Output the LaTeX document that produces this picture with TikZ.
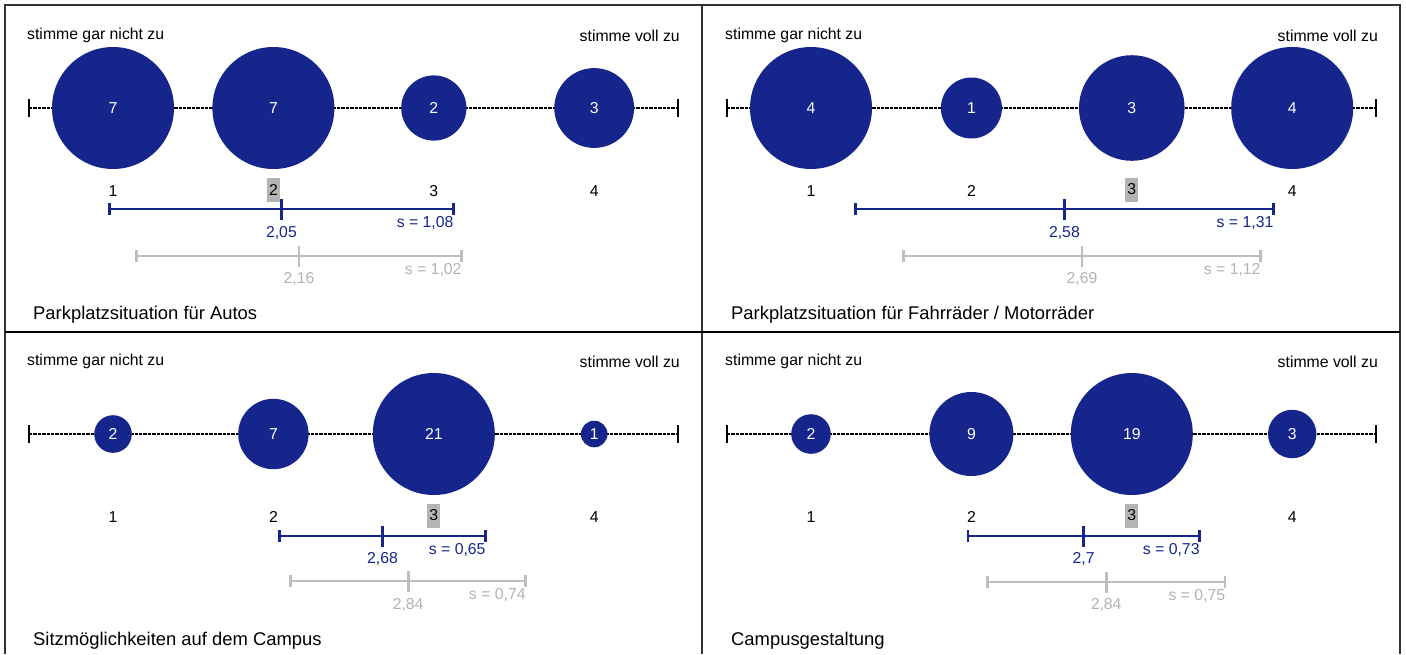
\documentclass[tikz,border=0pt]{standalone}
\usepackage{fontspec}
\setmainfont{Liberation Sans}
\usetikzlibrary{arrows.meta}

\definecolor{surveyblue}{RGB}{21,37,140}
\definecolor{refgray}{RGB}{190,190,190}
\definecolor{reftext}{RGB}{178,178,178}
\definecolor{medgray}{RGB}{180,180,180}
\newcommand{\lblfont}{\fontsize{15.8}{18}\selectfont}
\newcommand{\ttlfont}{\fontsize{18.4}{21}\selectfont}

\begin{document}
\begin{tikzpicture}[x=1pt,y=-1pt,
		frame/.style={line width=1.4pt,color=black!80},
		scaleline/.style={line width=2.2pt,dash pattern=on 3.4pt off 1pt},
		scaletick/.style={line width=2.2pt},
		answer/.style={circle,fill=surveyblue,inner sep=0pt,text=white,font=\lblfont},
		endtext/.style={font=\lblfont,inner sep=0pt},
		scalenum/.style={font=\lblfont,inner sep=0pt},
		median/.style={fill=medgray,minimum width=13pt,minimum height=24pt},
		meanbar/.style={line width=2.8pt,surveyblue,{Bar[width=12pt]}-{Bar[width=12pt]}},
		meantick/.style={line width=2.8pt,surveyblue},
		meantext/.style={font=\lblfont,inner sep=0pt,text=surveyblue},
		refbar/.style={line width=2.8pt,refgray,{Bar[width=12pt]}-{Bar[width=12pt]}},
		reftick/.style={line width=2.8pt,refgray},
		reftxt/.style={font=\lblfont,inner sep=0pt,text=reftext},
		title/.style={font=\ttlfont,inner sep=0pt,anchor=west}]

	\useasboundingbox (0,0) rectangle (1406,654);

	% frame
	\draw[frame] (5,654) -- (5,5) -- (1400,5) -- (1400,654);
	\draw[frame] (702,5) -- (702,654);
	\draw[frame,black] (5,332) -- (1400,332);

	% Autos
	\begin{scope}
		\coordinate (a-l) at (29,108);
		\coordinate (a-r) at (677.7,108);
		\draw[scaleline] (a-l) -- (a-r);
		\draw[scaletick] ([yshift=9pt]a-l) -- ([yshift=-9pt]a-l);
		\draw[scaletick] ([yshift=9pt]a-r) -- ([yshift=-9pt]a-r);
		\node[endtext,anchor=west] (a-lo) at (27,35.5) {stimme gar nicht zu};
		\node[endtext,anchor=east] (a-hi) at (680,35.5) {stimme voll zu};
		\foreach \p/\n/\rad in {1/7/61,2/7/61,3/2/32.6,4/3/39.9}
			\node[answer,minimum size=\rad*2pt] (a-c\p) at ({160.4*\p-47.4},108) {\n};
		\foreach \p in {1,3,4}
			\node[scalenum] (a-n\p) at ({160.4*\p-47.4},191) {\p};
		\node[scalenum,median] (a-n2) at ({160.4*2-47.4},189.5) {2};

		\coordinate (a-m) at ({160.4*2.05-47.4},209);
		\coordinate (a-m1) at ({160.4*(2.05-1.08)-47.4},209);
		\coordinate (a-m2) at ({160.4*(2.05+1.08)-47.4},209);
		\draw[meanbar] (a-m1) -- (a-m2);
		\draw[meantick] ([yshift=10.5pt]a-m) -- ([yshift=-10.5pt]a-m);
		\node[meantext] (a-mt) at ({160.4*2.05-47.4},232.5) {2,05};
		\node[meantext,anchor=east] (a-st) at ([xshift=-1pt,yshift=-14pt]a-m2) {s = 1,08};

		\coordinate (a-g) at ({160.4*2.16-47.4},256);
		\coordinate (a-g1) at ({160.4*(2.16-1.02)-47.4},256);
		\coordinate (a-g2) at ({160.4*(2.16+1.02)-47.4},256);
		\draw[refbar] (a-g1) -- (a-g2);
		\draw[reftick] ([yshift=10.5pt]a-g) -- ([yshift=-10.5pt]a-g);
		\node[reftxt] (a-gt) at ({160.4*2.16-47.4},279) {2,16};
		\node[reftxt,anchor=east] (a-gs) at ([xshift=-1pt,yshift=-14pt]a-g2) {s = 1,02};

		\node[title] (a-title) at (33,314.5) {Parkplatzsituation für Autos};
	\end{scope}

	% Fahrraeder
	\begin{scope}[shift={(698,0)}]
		\coordinate (b-l) at (29,108);
		\coordinate (b-r) at (677.7,108);
		\draw[scaleline] (b-l) -- (b-r);
		\draw[scaletick] ([yshift=9pt]b-l) -- ([yshift=-9pt]b-l);
		\draw[scaletick] ([yshift=9pt]b-r) -- ([yshift=-9pt]b-r);
		\node[endtext,anchor=west] (b-lo) at (27,35.5) {stimme gar nicht zu};
		\node[endtext,anchor=east] (b-hi) at (680,35.5) {stimme voll zu};
		\foreach \p/\n/\rad in {1/4/61,2/1/30.5,3/3/52.8,4/4/61}
			\node[answer,minimum size=\rad*2pt] (b-c\p) at ({160.4*\p-47.4},108) {\n};
		\foreach \p in {1,2,4}
			\node[scalenum] (b-n\p) at ({160.4*\p-47.4},191) {\p};
		\node[scalenum,median] (b-n3) at ({160.4*3-47.4},189.5) {3};

		\coordinate (b-m) at ({160.4*2.58-47.4},209);
		\coordinate (b-m1) at ({160.4*(2.58-1.31)-47.4},209);
		\coordinate (b-m2) at ({160.4*(2.58+1.31)-47.4},209);
		\draw[meanbar] (b-m1) -- (b-m2);
		\draw[meantick] ([yshift=10.5pt]b-m) -- ([yshift=-10.5pt]b-m);
		\node[meantext] (b-mt) at ({160.4*2.58-47.4},232.5) {2,58};
		\node[meantext,anchor=east] (b-st) at ([xshift=-1pt,yshift=-14pt]b-m2) {s = 1,31};

		\coordinate (b-g) at ({160.4*2.69-47.4},256);
		\coordinate (b-g1) at ({160.4*(2.69-1.12)-47.4},256);
		\coordinate (b-g2) at ({160.4*(2.69+1.12)-47.4},256);
		\draw[refbar] (b-g1) -- (b-g2);
		\draw[reftick] ([yshift=10.5pt]b-g) -- ([yshift=-10.5pt]b-g);
		\node[reftxt] (b-gt) at ({160.4*2.69-47.4},279) {2,69};
		\node[reftxt,anchor=east] (b-gs) at ([xshift=-1pt,yshift=-14pt]b-g2) {s = 1,12};

		\node[title] (b-title) at (33,314.5) {Parkplatzsituation für Fahrräder / Motorräder};
	\end{scope}

	% Sitzmoeglichkeiten
	\begin{scope}[shift={(0,326)}]
		\coordinate (c-l) at (29,108);
		\coordinate (c-r) at (677.7,108);
		\draw[scaleline] (c-l) -- (c-r);
		\draw[scaletick] ([yshift=9pt]c-l) -- ([yshift=-9pt]c-l);
		\draw[scaletick] ([yshift=9pt]c-r) -- ([yshift=-9pt]c-r);
		\node[endtext,anchor=west] (c-lo) at (27,35.5) {stimme gar nicht zu};
		\node[endtext,anchor=east] (c-hi) at (680,35.5) {stimme voll zu};
		\foreach \p/\n/\rad in {1/2/18.8,2/7/35.2,3/21/61,4/1/13.3}
			\node[answer,minimum size=\rad*2pt] (c-c\p) at ({160.4*\p-47.4},108) {\n};
		\foreach \p in {1,2,4}
			\node[scalenum] (c-n\p) at ({160.4*\p-47.4},191) {\p};
		\node[scalenum,median] (c-n3) at ({160.4*3-47.4},189.5) {3};

		\coordinate (c-m) at ({160.4*2.68-47.4},210);
		\coordinate (c-m1) at ({160.4*(2.68-0.65)-47.4},210);
		\coordinate (c-m2) at ({160.4*(2.68+0.65)-47.4},210);
		\draw[meanbar] (c-m1) -- (c-m2);
		\draw[meantick] ([yshift=10.5pt]c-m) -- ([yshift=-10.5pt]c-m);
		\node[meantext] (c-mt) at ({160.4*2.68-47.4},233) {2,68};
		\node[meantext,anchor=east] (c-st) at ([xshift=-1pt,yshift=-14pt]c-m2) {s = 0,65};

		\coordinate (c-g) at ({160.4*2.84-47.4},255);
		\coordinate (c-g1) at ({160.4*(2.84-0.74)-47.4},255);
		\coordinate (c-g2) at ({160.4*(2.84+0.74)-47.4},255);
		\draw[refbar] (c-g1) -- (c-g2);
		\draw[reftick] ([yshift=10.5pt]c-g) -- ([yshift=-10.5pt]c-g);
		\node[reftxt] (c-gt) at ({160.4*2.84-47.4},279) {2,84};
		\node[reftxt,anchor=east] (c-gs) at ([xshift=-1pt,yshift=-14pt]c-g2) {s = 0,74};

		\node[title] (c-title) at (33,315) {Sitzmöglichkeiten auf dem Campus};
	\end{scope}

	% Campusgestaltung
	\begin{scope}[shift={(698,326)}]
		\coordinate (d-l) at (29,108);
		\coordinate (d-r) at (677.7,108);
		\draw[scaleline] (d-l) -- (d-r);
		\draw[scaletick] ([yshift=9pt]d-l) -- ([yshift=-9pt]d-l);
		\draw[scaletick] ([yshift=9pt]d-r) -- ([yshift=-9pt]d-r);
		\node[endtext,anchor=west] (d-lo) at (27,35.5) {stimme gar nicht zu};
		\node[endtext,anchor=east] (d-hi) at (680,35.5) {stimme voll zu};
		\foreach \p/\n/\rad in {1/2/19.8,2/9/42,3/19/61,4/3/24.2}
			\node[answer,minimum size=\rad*2pt] (d-c\p) at ({160.4*\p-47.4},108) {\n};
		\foreach \p in {1,2,4}
			\node[scalenum] (d-n\p) at ({160.4*\p-47.4},191) {\p};
		\node[scalenum,median] (d-n3) at ({160.4*3-47.4},189.5) {3};

		\coordinate (d-m) at ({160.4*2.7-47.4},210);
		\coordinate (d-m1) at ({160.4*(2.7-0.73)-47.4},210);
		\coordinate (d-m2) at ({160.4*(2.7+0.73)-47.4},210);
		\draw[meanbar] (d-m1) -- (d-m2);
		\draw[meantick] ([yshift=10.5pt]d-m) -- ([yshift=-10.5pt]d-m);
		\node[meantext] (d-mt) at ({160.4*2.7-47.4},233) {2,7};
		\node[meantext,anchor=east] (d-st) at ([xshift=-1pt,yshift=-14pt]d-m2) {s = 0,73};

		\coordinate (d-g) at ({160.4*2.84-47.4},256);
		\coordinate (d-g1) at ({160.4*(2.84-0.75)-47.4},256);
		\coordinate (d-g2) at ({160.4*(2.84+0.75)-47.4},256);
		\draw[refbar] (d-g1) -- (d-g2);
		\draw[reftick] ([yshift=10.5pt]d-g) -- ([yshift=-10.5pt]d-g);
		\node[reftxt] (d-gt) at ({160.4*2.84-47.4},279) {2,84};
		\node[reftxt,anchor=east] (d-gs) at ([xshift=-1pt,yshift=-14pt]d-g2) {s = 0,75};

		\node[title] (d-title) at (33,315) {Campusgestaltung};
	\end{scope}
\end{tikzpicture}
\end{document}
